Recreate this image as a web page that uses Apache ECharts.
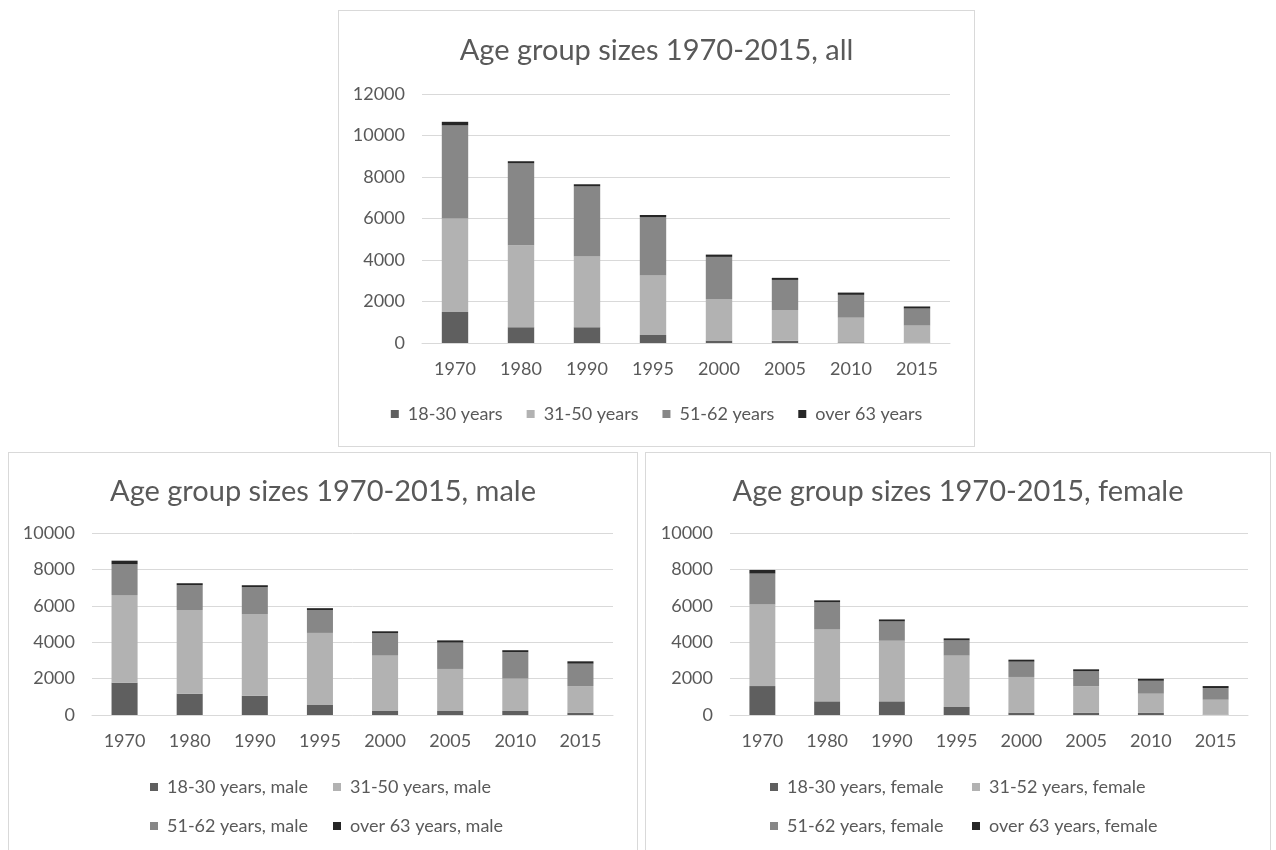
<!DOCTYPE html>
<html>
<head>
<meta charset="utf-8">
<script src="https://cdn.jsdelivr.net/npm/echarts@6/dist/echarts.min.js"></script>
<style>
  html, body { margin: 0; padding: 0; background: #ffffff; width: 1276px; height: 850px; overflow: hidden; }
  .panel { position: absolute; box-sizing: border-box; border: 1px solid #d9d9d9; background: #ffffff; }
</style>
</head>
<body>
<div id="chartAll" class="panel" style="left:338px; top:10px; width:637px; height:437px;"></div>
<div id="chartMale" class="panel" style="left:8px; top:452px; width:630px; height:420px;"></div>
<div id="chartFemale" class="panel" style="left:645px; top:452px; width:626px; height:420px;"></div>
<script>
// Survey years shared by all three charts
const years = ['1970', '1980', '1990', '1995', '2000', '2005', '2010', '2015'];

// All respondents
const all18to30 = [1500, 760, 760, 390, 120, 110, 30, 20];
const all31to50 = [4500, 3950, 3410, 2860, 2000, 1480, 1190, 820];
const all51to62 = [4490, 3950, 3380, 2820, 2030, 1450, 1100, 820];
const allOver63 = [170, 100, 100, 100, 110, 100, 110, 100];
const allNames = ['18-30 years', '31-50 years', '51-62 years', 'over 63 years'];

// Male respondents
const male18to30 = [1780, 1170, 1060, 550, 220, 220, 220, 130];
const male31to50 = [4810, 4600, 4490, 3960, 3040, 2310, 1780, 1460];
const male51to62 = [1690, 1360, 1470, 1250, 1230, 1450, 1450, 1230];
const maleOver63 = [200, 110, 110, 110, 110, 120, 110, 130];
const maleNames = ['18-30 years, male', '31-50 years, male', '51-62 years, male', 'over 63 years, male'];

// Female respondents
const female18to30 = [1590, 750, 750, 440, 130, 130, 130, 20];
const female31to52 = [4490, 3970, 3330, 2820, 1960, 1450, 1040, 820];
const female51to62 = [1690, 1470, 1060, 840, 840, 820, 710, 640];
const femaleOver63 = [200, 110, 110, 110, 110, 110, 110, 110];
const femaleNames = ['18-30 years, female', '31-52 years, female', '51-62 years, female', 'over 63 years, female'];

// Grey shades, one per age group
const groupColors = ['#5f5f5f', '#b2b2b2', '#878787', '#262626'];

const FONT = 'Lato, "Open Sans", sans-serif';
const TEXT = '#595959';

function buildOption(cfg) {
  const series = cfg.names.map((name, i) => ({
    name: name,
    type: 'bar',
    stack: 'total',
    barWidth: '40%',
    data: cfg.values[i],
    itemStyle: { color: groupColors[i] },
    emphasis: { disabled: true }
  }));
  return {
    animation: false,
    textStyle: { fontFamily: FONT, color: TEXT },
    title: {
      text: cfg.title,
      left: 'center',
      top: cfg.titleTop,
      textStyle: { fontFamily: FONT, fontSize: 29, fontWeight: 'normal', color: TEXT }
    },
    legend: cfg.legend,
    grid: cfg.grid,
    xAxis: {
      type: 'category',
      data: years,
      axisLine: { lineStyle: { color: '#d9d9d9', width: 1 } },
      axisTick: { show: false },
      axisLabel: { color: TEXT, fontSize: 18, fontFamily: FONT, margin: 17 }
    },
    yAxis: {
      type: 'value',
      min: 0,
      max: cfg.max,
      interval: 2000,
      axisLine: { show: false },
      axisTick: { show: false },
      splitLine: { lineStyle: { color: '#d9d9d9', width: 1 } },
      axisLabel: {
        color: TEXT, fontSize: 18, fontFamily: FONT, margin: 17,
        formatter: (v) => String(v)
      }
    },
    series: series
  };
}

const legendText = { color: TEXT, fontSize: 18, fontFamily: FONT, padding: [0, 0, 0, 4] };

// Bottom panels place each legend entry in a two-column grid
function gridLegends(names, cols, rows) {
  return names.map((n, i) => ({
    data: [n],
    left: cols[i % 2],
    top: rows[Math.floor(i / 2)],
    icon: 'rect',
    itemWidth: 8,
    itemHeight: 8,
    selectedMode: false,
    textStyle: legendText
  }));
}

const chartAll = echarts.init(document.getElementById('chartAll'));
chartAll.setOption(buildOption({
  title: 'Age group sizes 1970-2015, all',
  titleTop: 20,
  names: allNames,
  values: [all18to30, all31to50, all51to62, allOver63],
  max: 12000,
  grid: { left: 83, right: 24, top: 83, height: 249 },
  legend: {
    data: allNames,
    left: 'center',
    top: 389,
    icon: 'rect',
    itemWidth: 8,
    itemHeight: 8,
    itemGap: 24,
    selectedMode: false,
    textStyle: legendText
  }
}));

const chartMale = echarts.init(document.getElementById('chartMale'));
chartMale.setOption(buildOption({
  title: 'Age group sizes 1970-2015, male',
  titleTop: 19,
  names: maleNames,
  values: [male18to30, male31to50, male51to62, maleOver63],
  max: 10000,
  grid: { left: 83, right: 24, top: 80, height: 182 },
  legend: gridLegends(maleNames, [136, 319], [320, 359])
}));

const chartFemale = echarts.init(document.getElementById('chartFemale'));
chartFemale.setOption(buildOption({
  title: 'Age group sizes 1970-2015, female',
  titleTop: 19,
  names: femaleNames,
  values: [female18to30, female31to52, female51to62, femaleOver63],
  max: 10000,
  grid: { left: 84, right: 22, top: 80, height: 182 },
  legend: gridLegends(femaleNames, [119, 321], [320, 359])
}));
</script>
</body>
</html>
